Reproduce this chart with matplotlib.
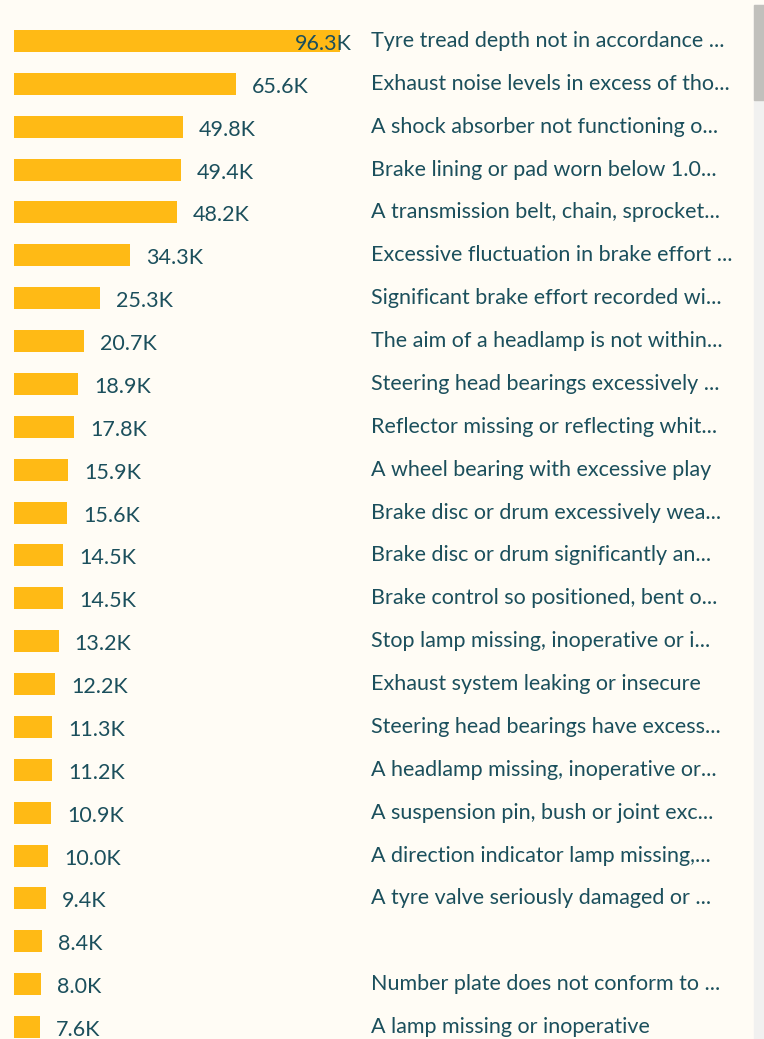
import matplotlib
matplotlib.use("Agg")
import matplotlib.pyplot as plt
from matplotlib.patches import Rectangle
from matplotlib.transforms import blended_transform_factory

categories = [
    "Tyre tread depth not in accordance ...",
    "Exhaust noise levels in excess of tho...",
    "A shock absorber not functioning o...",
    "Brake lining or pad worn below 1.0...",
    "A transmission belt, chain, sprocket...",
    "Excessive fluctuation in brake effort ...",
    "Significant brake effort recorded wi...",
    "The aim of a headlamp is not within...",
    "Steering head bearings excessively ...",
    "Reflector missing or reflecting whit...",
    "A wheel bearing with excessive play",
    "Brake disc or drum excessively wea...",
    "Brake disc or drum significantly an...",
    "Brake control so positioned, bent o...",
    "Stop lamp missing, inoperative or i...",
    "Exhaust system leaking or insecure",
    "Steering head bearings have excess...",
    "A headlamp missing, inoperative or...",
    "A suspension pin, bush or joint exc...",
    "A direction indicator lamp missing,...",
    "A tyre valve seriously damaged or ...",
    "",
    "Number plate does not conform to ...",
    "A lamp missing or inoperative",
]
values_k = [96.3, 65.6, 49.8, 49.4, 48.2, 34.3, 25.3, 20.7, 18.9, 17.8, 15.9,
            15.6, 14.5, 14.5, 13.2, 12.2, 11.3, 11.2, 10.9, 10.0, 9.4, 8.4, 8.0, 7.6]

BG = "#FFFCF5"
BAR = "#FFBA15"
TXT = "#1B4F5C"
FONT = ["Lato", "DejaVu Sans"]
FS = 15.5

W, H = 764, 1039
fig = plt.figure(figsize=(W / 100, H / 100), dpi=100, facecolor=BG)
ax = fig.add_axes([14 / W, 0, 740 / W, 1])
ax.set_facecolor(BG)
px_per_k = 3.385
ax.set_xlim(0, 740 / px_per_k)
row = 42.87
ax.set_ylim((H - 41) / row, -41 / row)
ax.axis("off")

ys = list(range(len(values_k)))
ax.barh(ys, values_k, height=22 / row, color=BAR, edgecolor="none")

offset = 16 / px_per_k
max_right = (352 - 14) / px_per_k
for y, v in zip(ys, values_k):
    label = f"{v:.1f}K"
    x = v + offset
    if v + offset + 57 / px_per_k > max_right:
        ax.text(max_right, y + 3 / row, label, ha="right", va="center",
                color=TXT, fontsize=FS, family=FONT)
    else:
        ax.text(x, y + 3 / row, label, ha="left", va="center",
                color=TXT, fontsize=FS, family=FONT)

tr = blended_transform_factory(fig.transFigure, ax.transData)
for y, c in zip(ys, categories):
    ax.text(371 / W, y, c, transform=tr, ha="left", va="center",
            color=TXT, fontsize=FS, family=FONT)

# scrollbar
fig.patches.append(Rectangle((754 / W, 0), 10 / W, (H - 5) / H,
                             transform=fig.transFigure, color="#F1F1F0", zorder=0))
fig.patches.append(Rectangle((754 / W, (H - 100) / H), 10 / W, 95 / H,
                             transform=fig.transFigure, color="#C1C0BC", zorder=1))

fig.savefig("out.png", dpi=100, facecolor=BG)
